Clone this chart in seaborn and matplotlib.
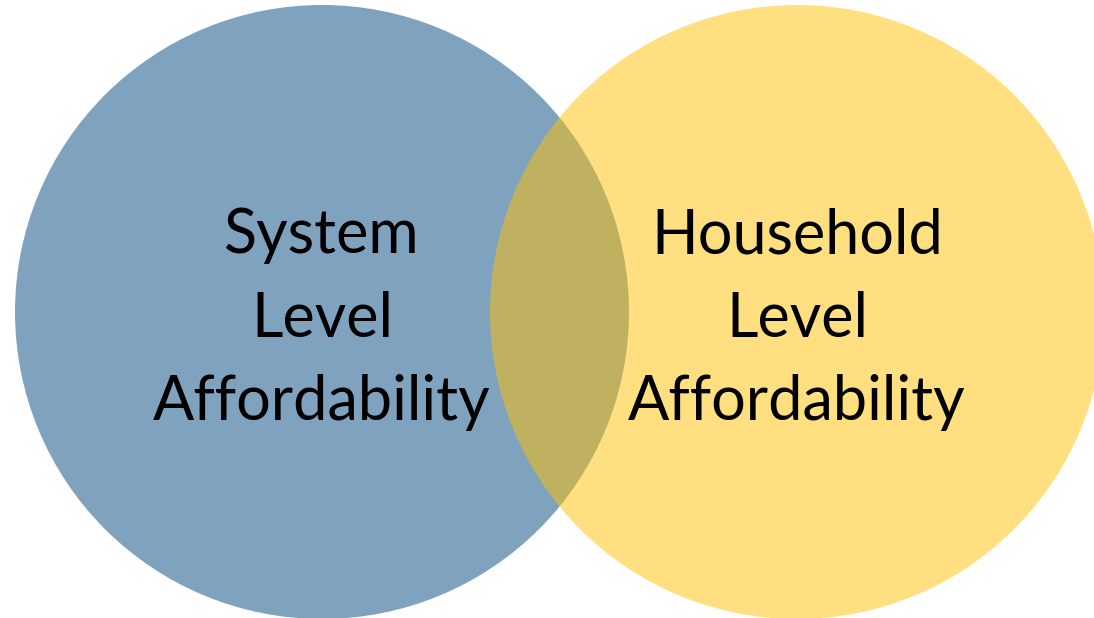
#!/usr/bin/env python3
# Two-set Venn diagram: system vs household level affordability.

import matplotlib
import seaborn as sns

matplotlib.use("Agg")
import matplotlib.patches as mpatches
import matplotlib.pyplot as plt

# Data.
set_names = ["System Level Affordability", "Household Level Affordability"]
set_lines = [["System", "Level", "Affordability"], ["Household", "Level", "Affordability"]]
set_colors = ["#004781", "#FFC000"]

sns.set_theme(style="white")
plt.rcParams["font.family"] = ["Lato", "DejaVu Sans"]

fig, ax = plt.subplots(figsize=(10.94, 6.18), dpi=100)
fig.subplots_adjust(left=0, right=1, bottom=0, top=1)
ax.set_xlim(0, 1094)
ax.set_ylim(618, 0)
ax.set_aspect("equal")
ax.axis("off")

# Circle layout (pixel space).
centers_x = [322, 797]
center_y = 312
radius = 307
baselines = [253, 337, 420]

for i, name in enumerate(set_names):
    circ = mpatches.Circle(
        (centers_x[i], center_y),
        radius,
        facecolor=set_colors[i],
        edgecolor="none",
        alpha=0.5,
        label=name,
    )
    ax.add_patch(circ)
    for line, yb in zip(set_lines[i], baselines):
        ax.text(
            centers_x[i],
            yb,
            line,
            ha="center",
            va="baseline",
            fontsize=44,
            color="black",
        )

plt.savefig("out.png", dpi=100)
plt.close()
